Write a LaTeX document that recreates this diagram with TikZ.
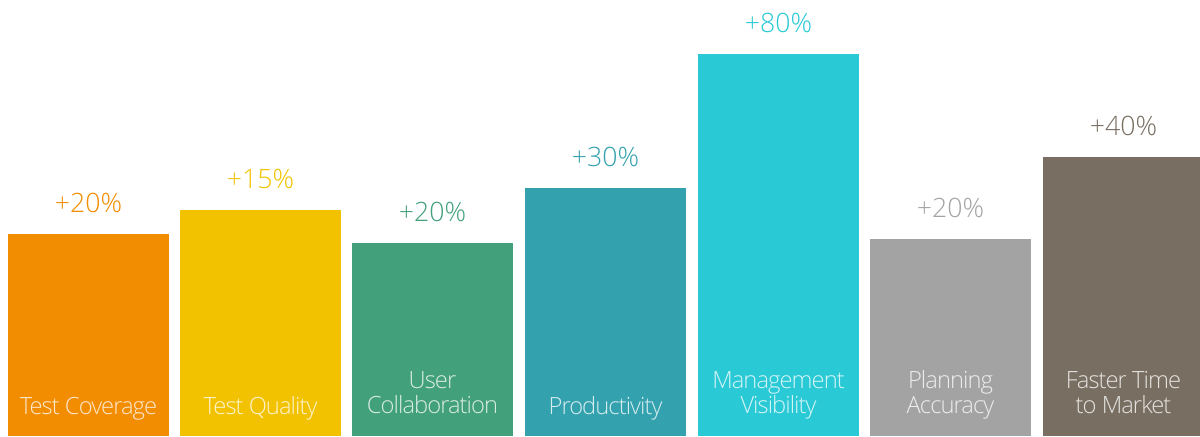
\documentclass[tikz,border=0pt]{standalone}
\usepackage{fontspec}
\setmainfont{Open Sans}[UprightFont={* Light}]
\newfontfamily\barfont{Open Sans}[UprightFont={* Light}, LetterSpace=-4]
\usetikzlibrary{positioning}
\definecolor{coverage}{HTML}{F28C00}
\definecolor{quality}{HTML}{F2C200}
\definecolor{collab}{HTML}{42A07B}
\definecolor{product}{HTML}{33A2AE}
\definecolor{visib}{HTML}{29C9D5}
\definecolor{plan}{HTML}{A3A3A3}
\definecolor{market}{HTML}{796E62}
\tikzset{
	bar/.style={rectangle, inner sep=0, outer sep=0, minimum width=120.75pt},
	pctlabel/.style={inner sep=0, font=\fontsize{20pt}{20pt}\selectfont},
	barlabel/.style={inner sep=0, align=center, text=white, text opacity=.8,
		font=\barfont\fontsize{17.8pt}{18.75pt}\selectfont}
}
\begin{document}
\begin{tikzpicture}[x=.75pt, y=.75pt]
	\useasboundingbox (0,0) rectangle (1200,436);
	\foreach \n/\x/\h/\lab/\lift/\pct in {
		coverage/8/202/{Test Coverage}/22/{+20\%},
		quality/180/226/{Test Quality}/22/{+15\%},
		collab/352/193/{User\\Collaboration}/23/{+20\%},
		product/525/248/{Productivity}/22/{+30\%},
		visib/698/382/{Management\\Visibility}/23/{+80\%},
		plan/870/197/{Planning\\Accuracy}/23/{+20\%},
		market/1043/279/{Faster Time\\to Market}/23/{+40\%}}
	{
		\node[bar, fill=\n, minimum height=\h*.75pt, anchor=south west] (\n) at (\x,0) {};
		\node[pctlabel, text=\n, above=15.75pt of \n] (\n-pct) {\pct};
		\node[barlabel, anchor=base] (\n-name) at ([yshift=\lift*.75pt]\n.south) {\lab};
	}
\end{tikzpicture}
\end{document}
